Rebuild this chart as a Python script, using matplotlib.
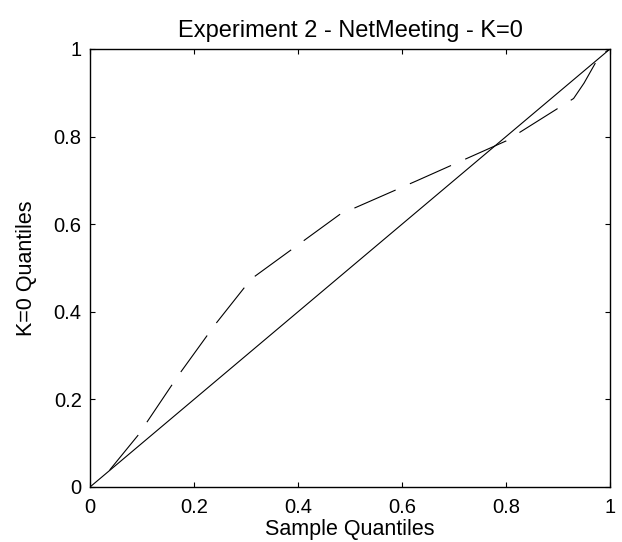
import matplotlib.pyplot as plt

plt.rcParams['font.family'] = ['Liberation Sans', 'DejaVu Sans']
plt.rcParams['lines.scale_dashes'] = False

# quantile pairs
sample_q = [0.038, 0.093, 0.17, 0.24, 0.31, 0.48, 0.63, 0.80, 0.93, 0.95, 0.98, 1.0]
k0_q = [0.039, 0.119, 0.255, 0.37, 0.475, 0.622, 0.70, 0.79, 0.887, 0.922, 0.985, 1.0]

# reference line y = x
ref_x = [0, 1]
ref_y = [0, 1]

ticks = [0, 0.2, 0.4, 0.6, 0.8, 1]
tick_labels = ['0', '0.2', '0.4', '0.6', '0.8', '1']

fig = plt.figure(figsize=(6.22, 5.42), dpi=100)
ax = fig.add_axes([90 / 622, 1 - 487 / 542, 520 / 622, 438 / 542])

ax.plot(ref_x, ref_y, color='black', lw=0.8)
ax.plot(sample_q, k0_q, color='black', lw=0.8, linestyle=(0, (32.4, 11.2)))

ax.set_xlim(0, 1)
ax.set_ylim(0, 1)
ax.set_xticks(ticks)
ax.set_xticklabels(tick_labels)
ax.set_yticks(ticks)
ax.set_yticklabels(tick_labels)
ax.tick_params(direction='in', length=3.6, width=0.8, top=True, right=True,
               labelsize=14.5, colors='black')
ax.tick_params(axis='x', pad=8)
ax.tick_params(axis='y', pad=6)
for s in ax.spines.values():
    s.set_linewidth(1.0)
    s.set_color('black')

ax.set_title('Experiment 2 - NetMeeting - K=0', fontsize=17, pad=9)
ax.set_xlabel('Sample Quantiles', fontsize=15.5, labelpad=1)
ax.set_ylabel('K=0 Quantiles', fontsize=15.5, labelpad=12)

fig.savefig('out.png', dpi=100)
